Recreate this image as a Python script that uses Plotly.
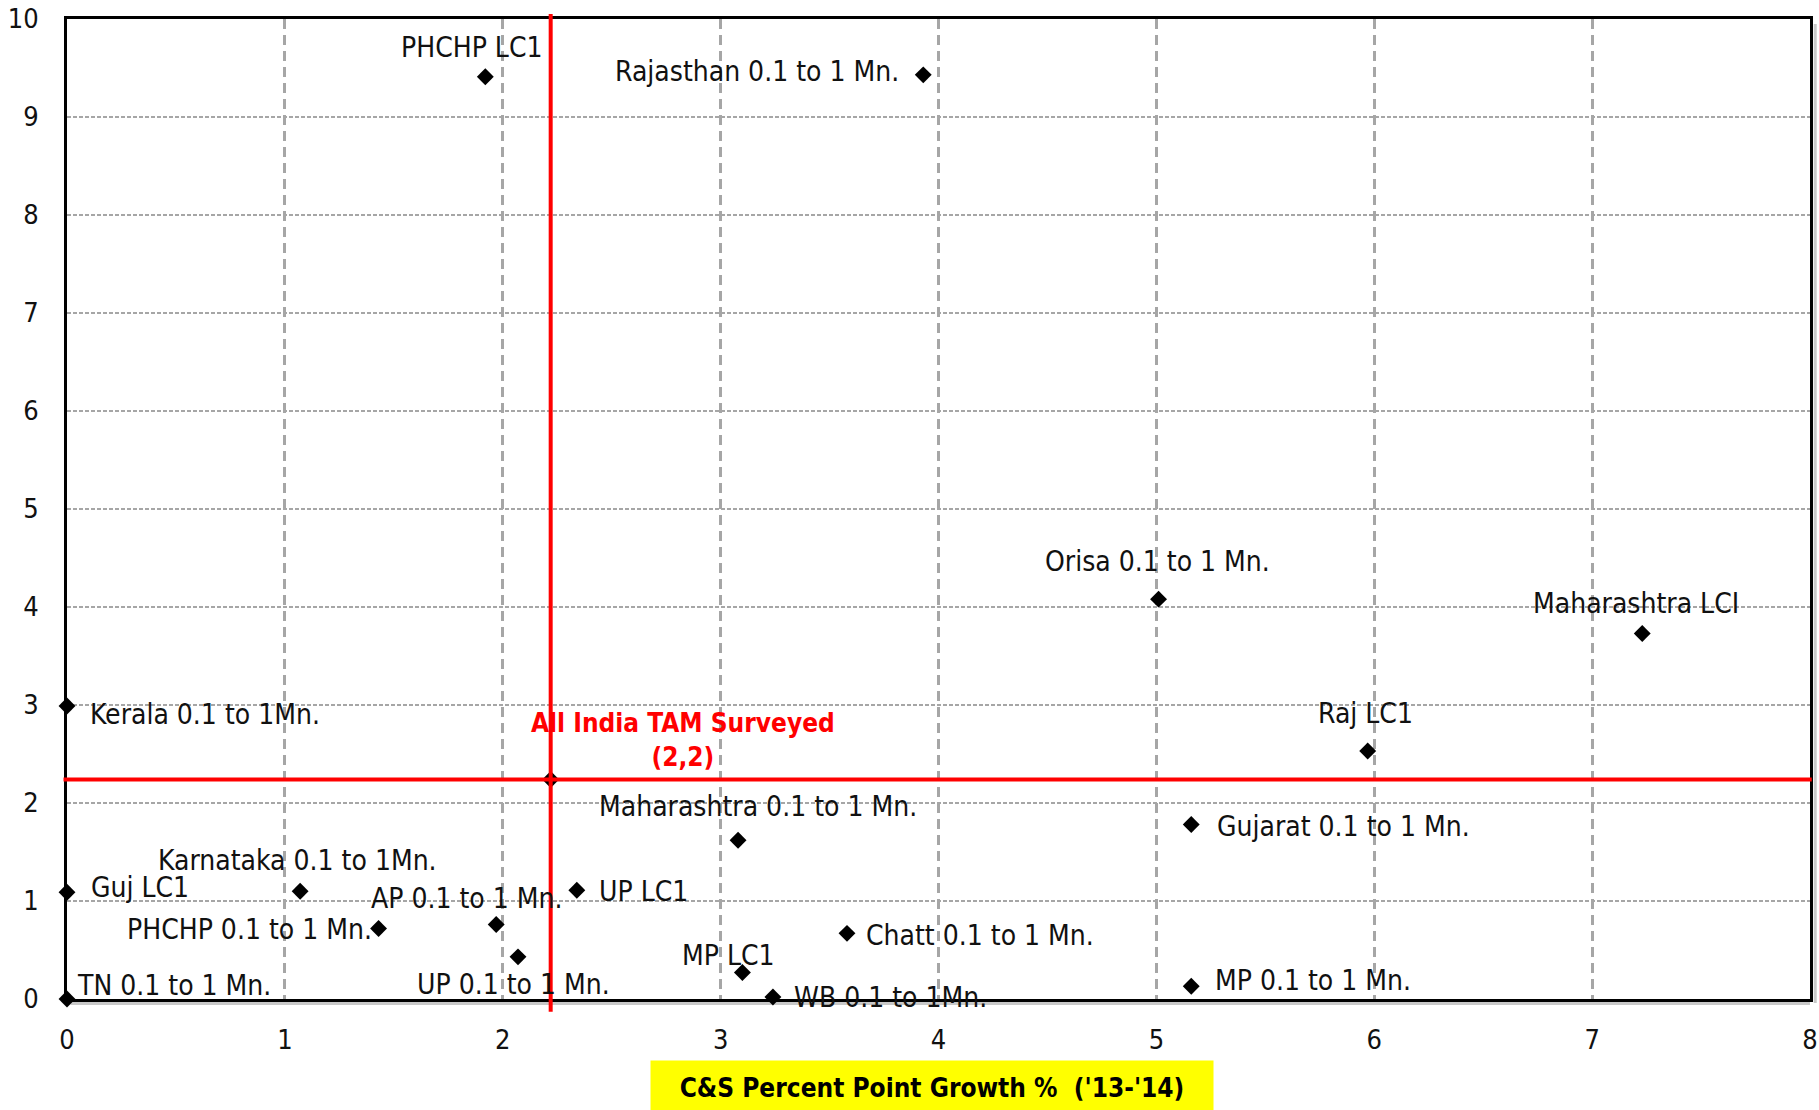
import plotly.graph_objects as go

# Town-class groups plotted by C&S percent point growth (x) and the vertical metric (y)
groups = [
    "PHCHP LC1", "Rajasthan 0.1 to 1 Mn.", "Orisa 0.1 to 1 Mn.", "Maharashtra LCI",
    "Kerala 0.1 to 1Mn.", "Raj LC1", "Maharashtra 0.1 to 1 Mn.", "Gujarat 0.1 to 1 Mn.",
    "Karnataka 0.1 to 1Mn.", "Guj LC1", "UP LC1", "AP 0.1 to 1 Mn.",
    "PHCHP 0.1 to 1 Mn.", "UP 0.1 to 1 Mn.", "Chatt 0.1 to 1 Mn.", "MP LC1",
    "WB 0.1 to 1Mn.", "MP 0.1 to 1 Mn.", "TN 0.1 to 1 Mn.",
]
growth_pp = [1.92, 3.93, 5.01, 7.23, 0.0, 5.97, 3.08, 5.16, 1.07, 0.0, 2.34, 1.97,
             1.43, 2.07, 3.58, 3.10, 3.24, 5.16, 0.0]
y_metric = [9.41, 9.43, 4.08, 3.73, 2.99, 2.53, 1.62, 1.78, 1.10, 1.09, 1.11, 0.76,
            0.72, 0.43, 0.67, 0.27, 0.02, 0.13, 0.0]

# All-India reference point
india_name = "All India TAM Surveyed"
india_x = 2.22
india_y = 2.24

x_ticks = [0, 1, 2, 3, 4, 5, 6, 7, 8]
y_ticks = [0, 1, 2, 3, 4, 5, 6, 7, 8, 9, 10]
x_title = "C&S Percent Point Growth %  ('13-'14)"

# Label placement per group: (xanchor, xshift px, yshift px)
label_place = {
    "PHCHP LC1": ("center", -13, 29),
    "Rajasthan 0.1 to 1 Mn.": ("right", -22, 3),
    "Orisa 0.1 to 1 Mn.": ("center", -1, 38),
    "Maharashtra LCI": ("center", -6, 30),
    "Kerala 0.1 to 1Mn.": ("left", 21, -9),
    "Raj LC1": ("center", -2, 38),
    "Maharashtra 0.1 to 1 Mn.": ("center", 20, 34),
    "Gujarat 0.1 to 1 Mn.": ("left", 24, -2),
    "Karnataka 0.1 to 1Mn.": ("center", -3, 31),
    "Guj LC1": ("left", 22, 5),
    "UP LC1": ("left", 20, -1),
    "AP 0.1 to 1 Mn.": ("center", -30, 26),
    "PHCHP 0.1 to 1 Mn.": ("right", -5, -1),
    "UP 0.1 to 1 Mn.": ("center", -5, -28),
    "Chatt 0.1 to 1 Mn.": ("left", 17, -2),
    "MP LC1": ("center", -14, 17),
    "WB 0.1 to 1Mn.": ("left", 19, 0),
    "MP 0.1 to 1 Mn.": ("left", 22, 6),
    "TN 0.1 to 1 Mn.": ("left", 8, 14),
}

FONT = "DejaVu Sans Condensed, DejaVu Sans, Verdana, sans-serif"
GRID = "#a6a6a6"
RED = "#ff0000"

fig = go.Figure()

fig.add_trace(go.Scatter(
    x=growth_pp, y=y_metric, mode="markers",
    marker=dict(symbol="diamond", size=13, color="#000000"),
    cliponaxis=False, hoverinfo="text", text=groups, showlegend=False,
))
fig.add_trace(go.Scatter(
    x=[india_x], y=[india_y], mode="markers",
    marker=dict(symbol="diamond", size=13, color="#000000"),
    cliponaxis=False, hoverinfo="text", text=[india_name], showlegend=False,
))

annotations = []
for name, gx, gy in zip(groups, growth_pp, y_metric):
    anchor, dx, dy = label_place[name]
    annotations.append(dict(
        x=gx, y=gy, xref="x", yref="y", text=name, showarrow=False,
        xanchor=anchor, yanchor="middle", xshift=dx, yshift=dy,
        font=dict(family=FONT, size=28, color="#111111"),
    ))

annotations.append(dict(
    x=india_x, y=india_y, xref="x", yref="y",
    text=f"<b>{india_name}<br>({india_x:.0f},{india_y:.0f})</b>",
    showarrow=False, xanchor="center", yanchor="middle", xshift=132, yshift=39,
    font=dict(family=FONT, size=26, color=RED),
))

# Axis title drawn in a yellow box under the plot
annotations.append(dict(
    x=0.5, y=-0.0878, xref="paper", yref="paper", text=f"<b>{x_title}</b>",
    showarrow=False, xanchor="center", yanchor="middle", xshift=-7, yshift=-2,
    width=560, height=51, bgcolor="#ffff00",
    font=dict(family=FONT, size=26, color="#000000"),
))

shapes = [
    # soft shadow along bottom and right edges of the frame
    dict(type="line", xref="paper", yref="paper", x0=0.002, x1=1.0, y0=-0.004, y1=-0.004,
         line=dict(color="#c8c8c8", width=4), layer="below"),
    dict(type="line", xref="paper", yref="paper", x0=1.003, x1=1.003, y0=-0.004, y1=0.995,
         line=dict(color="#c8c8c8", width=3), layer="below"),
    # crosshair through the All-India point
    dict(type="line", xref="x", yref="paper", x0=india_x, x1=india_x, y0=-0.013, y1=1.005,
         line=dict(color=RED, width=4), layer="above"),
    dict(type="line", xref="paper", yref="y", x0=-0.002, x1=1.001, y0=india_y, y1=india_y,
         line=dict(color=RED, width=4), layer="above"),
]

fig.update_layout(
    width=1819, height=1110,
    margin=dict(l=67, r=9, t=19, b=111, pad=0),
    paper_bgcolor="#ffffff", plot_bgcolor="#ffffff",
    font=dict(family=FONT, color="#111111"),
    annotations=annotations, shapes=shapes,
    showlegend=False,
)

fig.update_xaxes(
    range=[0, 8], tickvals=x_ticks, ticktext=[str(v) for v in x_ticks],
    automargin=False,
    showgrid=True, gridcolor=GRID, gridwidth=2.5, griddash="10px,6px",
    zeroline=False, showline=True, linecolor="#000000", linewidth=3, mirror=True,
    ticks="", ticklabelstandoff=15, ticklabeloverflow="allow",
    tickfont=dict(family=FONT, size=27, color="#111111"),
)
fig.update_yaxes(
    range=[0, 10], tickvals=y_ticks, ticktext=[str(v) for v in y_ticks],
    automargin=False,
    showgrid=True, gridcolor=GRID, gridwidth=1.5, griddash="4px,2px",
    zeroline=False, showline=True, linecolor="#000000", linewidth=3, mirror=True,
    ticks="", ticklabelstandoff=20, ticklabeloverflow="allow",
    tickfont=dict(family=FONT, size=27, color="#111111"),
)

fig.write_html("out.html")
